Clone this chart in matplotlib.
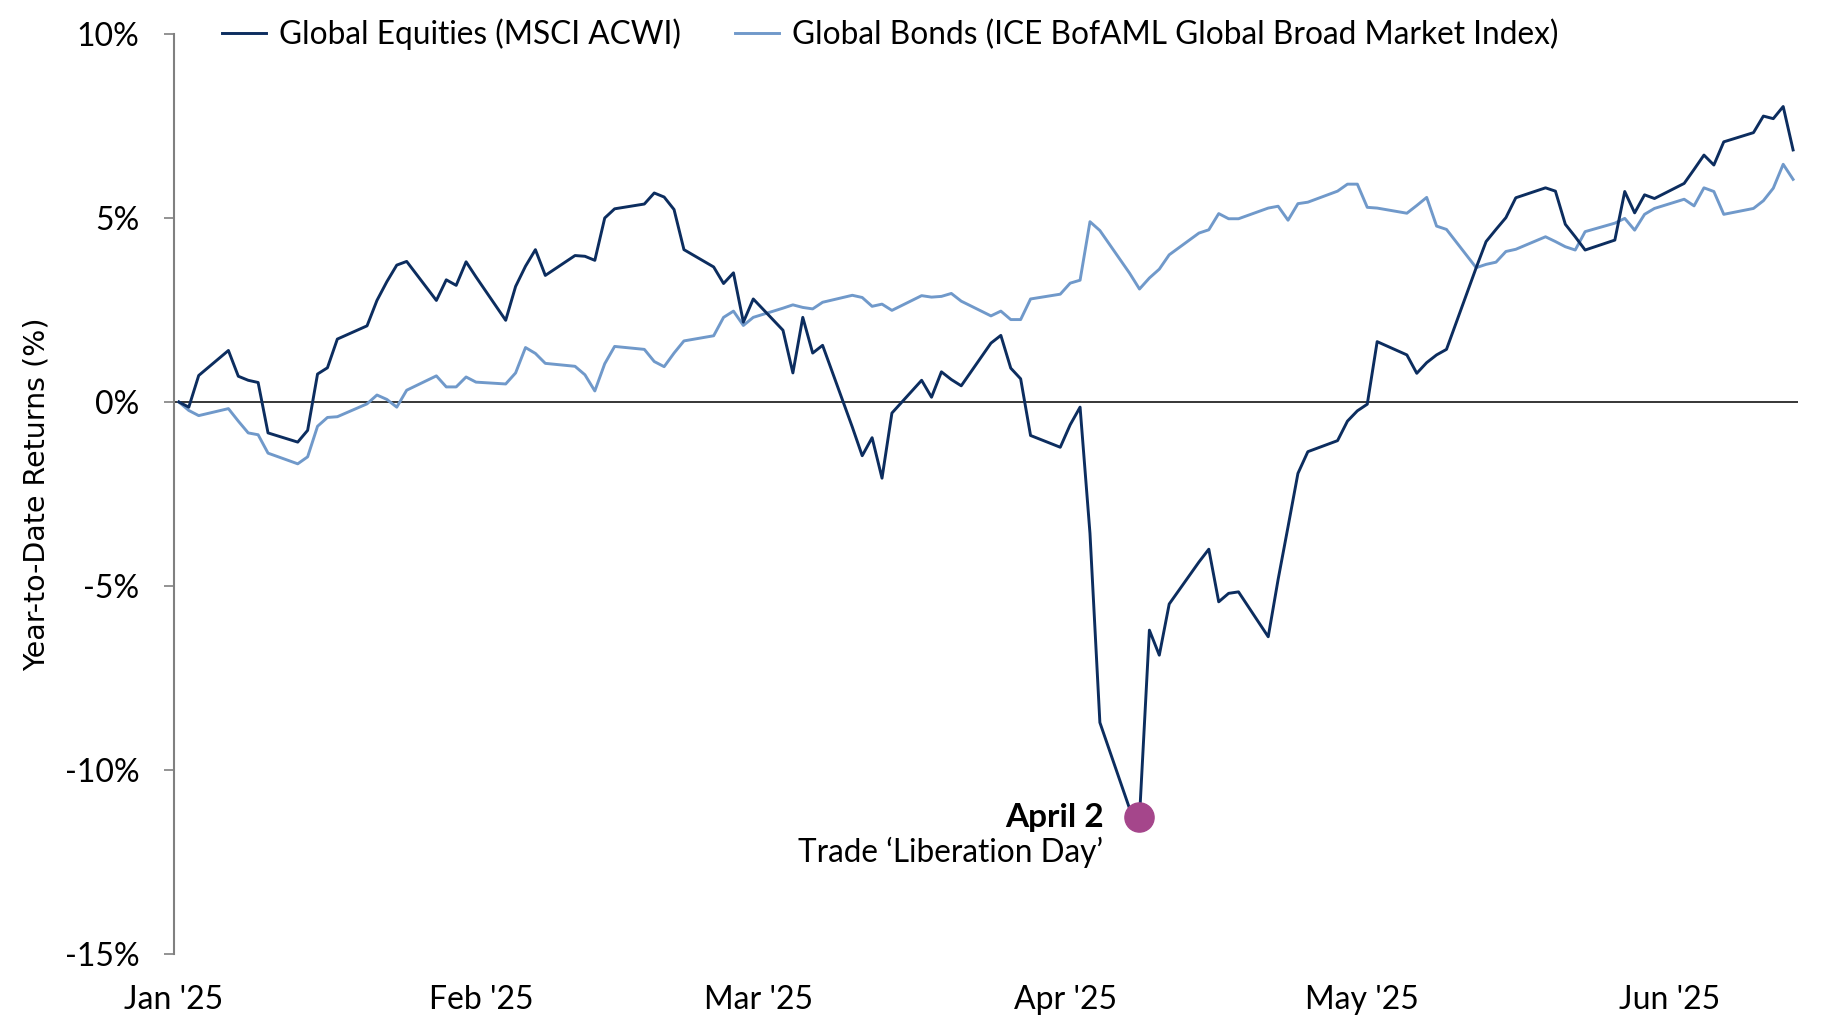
import matplotlib
matplotlib.use("Agg")
import matplotlib.pyplot as plt
import numpy as np
import pandas as pd

# Year-to-date returns (%), one value per weekday from 1 Jan 2025 to 13 Jun 2025
equities = [
    # Jan
    0.00, -0.14, 0.72, 1.40, 0.70, 0.59, 0.53, -0.84, -1.09, -0.77, 0.76, 0.93,
    1.71, 2.07, 2.76, 3.27, 3.72, 3.82, 2.76, 3.32, 3.17, 3.81, 3.40,
    # Feb
    2.22, 3.14, 3.69, 4.14, 3.44, 3.98, 3.96, 3.85, 5.00, 5.25, 5.38, 5.68,
    5.57, 5.23, 4.14, 3.67, 3.22, 3.51, 2.17, 2.80,
    # Mar
    1.95, 0.79, 2.30, 1.33, 1.54, -0.68, -1.46, -0.97, -2.07, -0.30, 0.59,
    0.13, 0.82, 0.61, 0.44, 1.60, 1.81, 0.92, 0.63, -0.91, -1.23,
    # Apr
    -0.62, -0.14, -3.57, -8.71, -11.05, -11.29, -6.20, -6.88, -5.49, -4.35,
    -4.00, -5.43, -5.20, -5.16, -6.38, -4.82, -3.39, -1.94, -1.35, -1.05,
    -0.52, -0.24,
    # May
    -0.06, 1.64, 1.28, 0.78, 1.07, 1.28, 1.43, 3.65, 4.36, 4.69, 5.01, 5.55,
    5.82, 5.73, 4.83, 4.49, 4.13, 4.40, 5.72, 5.14, 5.63, 5.53,
    # Jun
    5.94, 6.32, 6.71, 6.44, 7.07, 7.32, 7.77, 7.70, 8.03, 6.85,
]
bonds = [
    # Jan
    0.00, -0.23, -0.37, -0.18, -0.52, -0.84, -0.89, -1.39, -1.68, -1.49, -0.66,
    -0.42, -0.40, -0.05, 0.19, 0.07, -0.14, 0.32, 0.71, 0.41, 0.41, 0.68, 0.54,
    # Feb
    0.49, 0.79, 1.48, 1.32, 1.05, 0.97, 0.74, 0.30, 1.04, 1.51, 1.43, 1.10,
    0.96, 1.33, 1.66, 1.80, 2.30, 2.47, 2.08, 2.30,
    # Mar
    2.55, 2.64, 2.57, 2.53, 2.71, 2.90, 2.84, 2.60, 2.66, 2.49, 2.89, 2.85,
    2.87, 2.95, 2.74, 2.34, 2.47, 2.24, 2.24, 2.80, 2.93,
    # Apr
    3.23, 3.31, 4.90, 4.66, 3.50, 3.07, 3.37, 3.61, 4.00, 4.59, 4.68, 5.12,
    4.98, 4.98, 5.27, 5.32, 4.94, 5.39, 5.43, 5.73, 5.92, 5.92,
    # May
    5.29, 5.27, 5.13, 5.34, 5.56, 4.78, 4.69, 3.65, 3.74, 3.80, 4.09, 4.15,
    4.49, 4.36, 4.22, 4.13, 4.63, 4.86, 4.99, 4.67, 5.10, 5.26,
    # Jun
    5.51, 5.33, 5.82, 5.72, 5.10, 5.26, 5.47, 5.81, 6.46, 6.05,
]
dates = pd.bdate_range("2025-01-01", "2025-06-13")

month_starts = pd.date_range("2025-01-01", "2025-06-01", freq="MS")
month_labels = ["Jan '25", "Feb '25", "Mar '25", "Apr '25", "May '25", "Jun '25"]
y_ticks = [-15, -10, -5, 0, 5, 10]

EQ_LABEL = "Global Equities (MSCI ACWI)"
BOND_LABEL = "Global Bonds (ICE BofAML Global Broad Market Index)"
EQ_COLOR = "#0c2d5f"
BOND_COLOR = "#7099ca"
MARK_COLOR = "#a5468b"

plt.rcParams["font.family"] = ["Lato", "DejaVu Sans"]

fig = plt.figure(figsize=(18.31, 10.34), dpi=100)
ax = fig.add_axes([0.0950, 0.0774, 0.8870, 0.8897])

ax.axhline(0, color="black", lw=1.1, zorder=1)
bond_line, = ax.plot(dates, bonds, color=BOND_COLOR, lw=2.1, zorder=2)
eq_line, = ax.plot(dates, equities, color=EQ_COLOR, lw=2.1, zorder=3)

# trough marker + annotation
low = int(np.argmin(equities))
ax.plot(dates[low], equities[low], "o", ms=21, color=MARK_COLOR, zorder=4)
ax.annotate("April 2", xy=(dates[low], equities[low]), xytext=(-26, 0),
            textcoords="offset points", ha="right", va="center",
            fontsize=24, fontweight="bold")
ax.annotate("Trade \u2018Liberation Day\u2019", xy=(dates[low], equities[low]),
            xytext=(-26, -25), textcoords="offset points", ha="right",
            va="center", fontsize=22.7)

half_day = pd.Timedelta(hours=12)
ax.set_xlim(dates[0] - half_day, dates[-1] + half_day)
ax.set_xticks(month_starts - half_day)
ax.set_xticklabels(month_labels)
ax.set_ylim(-15, 10)
ax.set_yticks(y_ticks)
ax.set_yticklabels([f"{v}%" for v in y_ticks])

for side in ("top", "right", "bottom"):
    ax.spines[side].set_visible(False)
ax.spines["left"].set_color("#808080")
ax.spines["left"].set_linewidth(1.5)
ax.tick_params(axis="y", length=7, width=1.2, color="#808080", pad=18, labelsize=23)
ax.tick_params(axis="x", length=0, pad=22, labelsize=23)

fig.text(37 / 1831, 0.522, "Year-to-Date Returns (%)", rotation=90,
         ha="center", va="center", fontsize=20.5, family="DejaVu Sans")

fig.legend([eq_line, bond_line], [EQ_LABEL, BOND_LABEL], loc="center left",
           bbox_to_anchor=(222 / 1831, 1 - 34 / 1034), ncol=2, frameon=False,
           fontsize=22.8, borderpad=0, borderaxespad=0, handlelength=1.4,
           handletextpad=0.4, columnspacing=1.7)

fig.savefig("out.png", dpi=100)
